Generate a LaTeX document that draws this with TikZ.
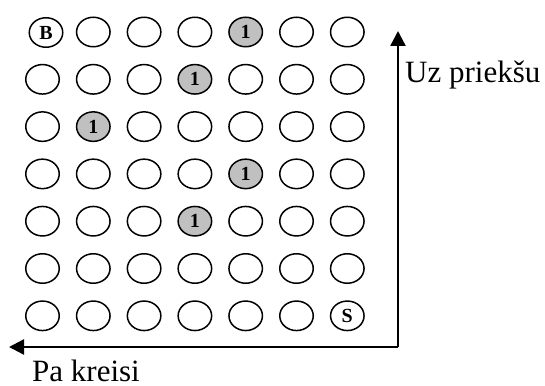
\documentclass[tikz,border=0pt]{standalone}
\usepackage{fontspec}
\setmainfont{Liberation Serif}
\usetikzlibrary{shapes.geometric,arrows.meta}
\definecolor{dotgray}{HTML}{C0C0C0}
\newcommand{\dotfont}{\fontsize{20}{22}\selectfont\bfseries}
\newcommand{\lblfont}{\fontsize{31}{35}\selectfont}
\begin{document}
\begin{tikzpicture}[x=1pt,y=-1pt,
  dot/.style={ellipse,draw=black,line width=1.5pt,minimum width=33.5pt,minimum height=29.5pt,inner sep=0pt},
  hot/.style={dot,fill=dotgray},
  axis/.style={line width=2.4pt,-{Triangle[length=15pt,width=15pt]}},
  lbl/.style={inner sep=0pt,anchor=base west}]
\useasboundingbox (0,0) rectangle (545,385);
\foreach \r in {1,...,7}{
  \foreach \c in {1,...,7}{
    \ifnum\r\c=11\else\ifnum\r\c=15\else\ifnum\r\c=24\else\ifnum\r\c=32\else
    \ifnum\r\c=45\else\ifnum\r\c=54\else\ifnum\r\c=77\else
    \node[dot] (n\r\c) at ({42.5+50.8*(\c-1)},{32+47.3*(\r-1)}) {};
    \fi\fi\fi\fi\fi\fi\fi
  }
}
\node[dot] (n11) at (46,32.5) {\dotfont B};
\node[hot] (n15) at ({42.5+50.8*4},32) {\dotfont 1};
\node[hot] (n24) at ({42.5+50.8*3},{32+47.3}) {\dotfont 1};
\node[hot] (n32) at ({42.5+50.8},{32+47.3*2}) {\dotfont 1};
\node[hot] (n45) at ({42.5+50.8*4},{32+47.3*3}) {\dotfont 1};
\node[hot] (n54) at ({42.5+50.8*3},{32+47.3*4}) {\dotfont 1};
\node[dot] (n77) at ({42.5+50.8*6},{32+47.3*6}) {\dotfont S};
\coordinate (corner) at (398,347);
\coordinate (top) at (398,31);
\coordinate (left) at (9,347);
\draw[axis] (corner) -- (top);
\draw[axis] (corner) -- (left);
\node[lbl] (uz) at (405,82.3) {\lblfont Uz priekšu};
\node[lbl] (pa) at (32,381.5) {\lblfont Pa kreisi};
\end{tikzpicture}
\end{document}
